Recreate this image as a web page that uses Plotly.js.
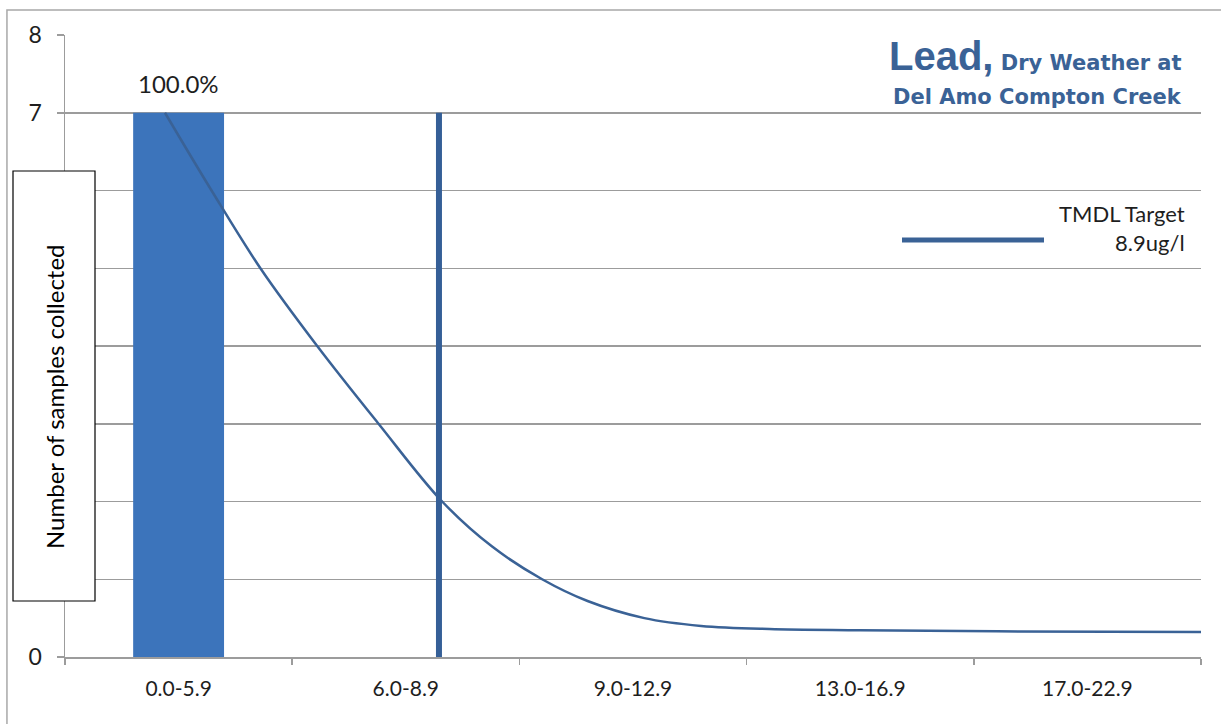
<!DOCTYPE html>
<html><head><meta charset="utf-8">
<script src="https://cdn.plot.ly/plotly-3.0.1.min.js"></script>
<style>html,body{margin:0;padding:0;background:#fff}#chart{width:1221px;height:724px}</style>
</head><body><div id="chart"></div>
<script>
// ---- data ----
const categories = ['0.0-5.9', '6.0-8.9', '9.0-12.9', '13.0-16.9', '17.0-22.9'];
const sampleCounts = [7, 0, 0, 0, 0];
const barLabels = ['100.0%', '', '', '', ''];
// smooth distribution curve (x in category-index units)
const curveX = [-0.06, 0.145, 0.36, 0.61, 0.88, 1.16, 1.38, 1.60, 1.80, 2.05, 2.30, 2.60, 3.0, 3.6, 4.5];
const curveY = [7.0, 6.0, 5.0, 4.0, 3.0, 2.0, 1.42, 1.0, 0.72, 0.50, 0.40, 0.36, 0.345, 0.33, 0.32];
// TMDL target line
const targetX = [1.146, 1.146];
const targetY = [0, 7];
const targetLabel = 'TMDL Target<br>8.9ug/l';
const yTickVals = [0, 1, 2, 3, 4, 5, 6, 7, 8];

const gridCol = '#9c9c9c';
const lineBlue = '#3a6296';

const traces = [
  {
    type: 'bar', x: categories, y: sampleCounts, width: 0.4,
    marker: {color: '#3c74bb', line: {width: 0}},
    hoverinfo: 'skip', showlegend: false
  },
  {
    type: 'scatter', mode: 'lines', x: curveX, y: curveY, xaxis: 'x2',
    line: {color: lineBlue, width: 2.5, shape: 'spline', smoothing: 1},
    hoverinfo: 'skip', showlegend: false
  },
  {
    type: 'scatter', mode: 'lines', x: targetX, y: targetY, xaxis: 'x2',
    line: {color: '#355f97', width: 6},
    hoverinfo: 'skip', showlegend: false
  }
];

const fontMain = 'Lato, "Open Sans", sans-serif';
const titleFont = '"DejaVu Sans", sans-serif';

const layout = {
  width: 1221, height: 724,
  margin: {l: 65, r: 20, t: 35, b: 67},
  paper_bgcolor: '#fff', plot_bgcolor: '#fff',
  font: {family: fontMain, color: '#1e1e1e'},
  xaxis: {
    type: 'category', range: [-0.5, 4.5],
    showgrid: false, showline: true, linecolor: gridCol, linewidth: 1.5,
    ticks: 'outside', tickson: 'boundaries', ticklen: 6, tickcolor: gridCol, tickwidth: 1.5,
    tickfont: {size: 21, family: fontMain, color: '#1e1e1e'},
    ticklabelstandoff: 12
  },
  xaxis2: {
    overlaying: 'x', range: [-0.5, 4.5], visible: false
  },
  yaxis: {
    range: [0, 8], tickvals: yTickVals,
    showgrid: true, gridcolor: gridCol, gridwidth: 1.5,
    showline: true, linecolor: gridCol, linewidth: 1.5,
    ticks: 'outside', ticklen: 7, tickcolor: gridCol, tickwidth: 1.5,
    tickfont: {size: 23, family: fontMain, color: '#1e1e1e'},
    ticklabelstandoff: 10, zeroline: false
  },
  shapes: [
    // outer chart border (left & top visible)
    {type: 'rect', xref: 'paper', yref: 'paper', x0: -0.0511, x1: 1.2, y0: -0.3, y1: 1.0402,
     line: {color: '#a8a8a8', width: 1.5}, fillcolor: 'rgba(0,0,0,0)', layer: 'below'},
    // y-axis title box
    {type: 'rect', xref: 'paper', yref: 'paper',
     x0: (13 - 65) / 1136, x1: (95 - 65) / 1136, y0: (657 - 601) / 622, y1: (657 - 171) / 622,
     line: {color: '#000', width: 1.2}, fillcolor: '#fff', layer: 'above'},
    // legend sample
    {type: 'line', xref: 'paper', yref: 'paper',
     x0: (902 - 65) / 1136, x1: (1044 - 65) / 1136, y0: (657 - 240) / 622, y1: (657 - 240) / 622,
     line: {color: lineBlue, width: 5}, layer: 'above'}
  ],
  annotations: [
    {x: categories[0], y: sampleCounts[0], xref: 'x', yref: 'y', text: barLabels[0],
     showarrow: false, yanchor: 'bottom', yshift: 13, font: {size: 24, family: fontMain, color: '#1e1e1e'}},
    {xref: 'paper', yref: 'paper', x: (54 - 65) / 1136, y: (657 - 397) / 622, text: 'Number of samples collected',
     textangle: -90, showarrow: false, xanchor: 'center', yanchor: 'middle',
     font: {size: 24, family: fontMain, color: '#000'}},
    {xref: 'paper', yref: 'paper', x: (1184 - 65) / 1136, y: (657 - 80) / 622, xanchor: 'right', yanchor: 'bottom',
     text: '<b><span style="font-size:40px;font-family:\'Liberation Sans\',Arial,sans-serif">Lead,</span> Dry Weather at</b>', showarrow: false,
     font: {size: 21, family: titleFont, color: lineBlue}},
    {xref: 'paper', yref: 'paper', x: (1184 - 65) / 1136, y: (657 - 111) / 622, xanchor: 'right', yanchor: 'bottom',
     text: '<b>Del Amo Compton Creek</b>', showarrow: false,
     font: {size: 21, family: titleFont, color: lineBlue}},
    {xref: 'paper', yref: 'paper', x: (1187 - 65) / 1136, y: (657 - 228) / 622, xanchor: 'right', yanchor: 'middle',
     align: 'right', text: targetLabel, showarrow: false,
     font: {size: 22, family: fontMain, color: '#1e1e1e'}}
  ]
};

Plotly.newPlot('chart', traces, layout, {staticPlot: true, displayModeBar: false});
</script>
</body></html>
